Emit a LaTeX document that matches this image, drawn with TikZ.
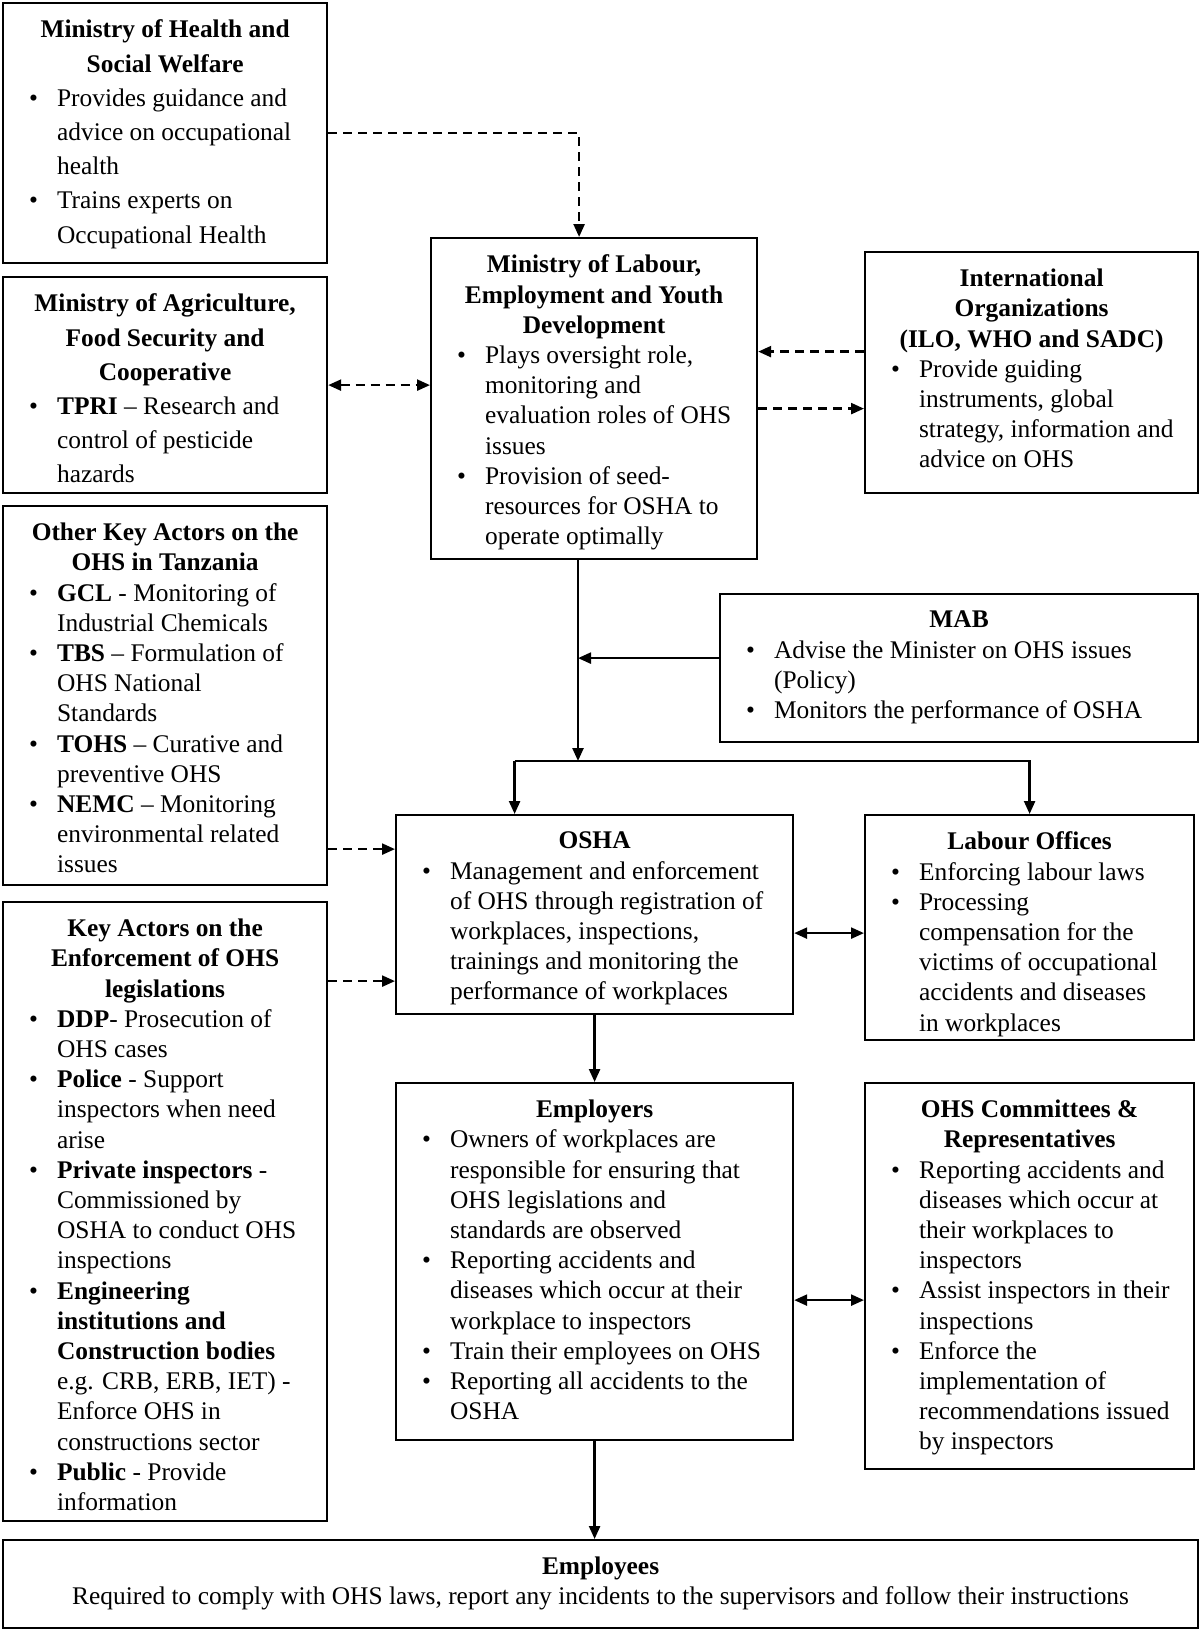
\documentclass[tikz,border=0pt]{standalone}
\usepackage{fontspec}
\setmainfont{Liberation Serif}
\usetikzlibrary{arrows.meta}

% bullet list used inside the boxes
\newenvironment{bul}{\begin{list}{\textbullet}{%
    \setlength{\leftmargin}{23pt}\setlength{\labelsep}{9.5pt}%
    \setlength{\labelwidth}{10pt}\setlength{\itemsep}{0pt}%
    \setlength{\parsep}{0pt}\setlength{\topsep}{0pt}%
    \setlength{\partopsep}{0pt}}\raggedright}{\end{list}}
% box body: width and height in px
\newcommand{\panelbody}[3]{\begin{minipage}[t][\dimexpr #2pt/2-17pt\relax][t]{\dimexpr #1pt/2-8pt\relax}\raggedright #3\end{minipage}}
\newcommand{\heading}[1]{{\centering\bfseries #1\par}}

\tikzset{
  box/.style={draw, line width=1.1pt, anchor=north west, inner xsep=4pt, inner ysep=8.5pt,
    font=\fontsize{12.7}{15.1}\selectfont},
  loose/.style={font=\fontsize{12.7}{17.1}\selectfont},
  conn/.style={line width=1.2pt},
  dashconn/.style={conn, dash pattern=on 4.5pt off 3pt},
}

\begin{document}
\begin{tikzpicture}[x=0.5pt, y=-0.5pt, >={Triangle[length=6.5pt, width=5.5pt]}]
\useasboundingbox (0,0) rectangle (1200,1629);

% left column
\node[box, loose] (health) at (2,2) {\panelbody{324}{260}{%
  \heading{Ministry of Health and\\Social Welfare}
  \begin{bul}
  \item Provides guidance and\\advice on occupational\\health
  \item Trains experts on\\Occupational Health
  \end{bul}}};
\node[box, loose] (agri) at (2,276) {\panelbody{324}{216}{%
  \heading{Ministry of Agriculture,\\Food Security and\\Cooperative}
  \begin{bul}
  \item \textbf{TPRI} -- Research and\\control of pesticide\\hazards
  \end{bul}}};
\node[box] (others) at (2,505) {\panelbody{324}{379}{%
  \heading{Other Key Actors on the\\OHS in Tanzania}
  \begin{bul}
  \item \textbf{GCL} - Monitoring of\\Industrial Chemicals
  \item \textbf{TBS} -- Formulation of\\OHS National\\Standards
  \item \textbf{TOHS} -- Curative and\\preventive OHS
  \item \textbf{NEMC} -- Monitoring\\environmental related\\issues
  \end{bul}}};
\node[box] (enforce) at (2,901) {\panelbody{324}{619}{%
  \heading{Key Actors on the\\Enforcement of OHS\\legislations}
  \begin{bul}
  \item \textbf{DDP}- Prosecution of\\OHS cases
  \item \textbf{Police} - Support\\inspectors when need\\arise
  \item \textbf{Private inspectors} -\\Commissioned by\\OSHA to conduct OHS\\inspections
  \item \textbf{Engineering\\institutions and\\Construction bodies}\\e.g. CRB, ERB, IET) -\\Enforce OHS in\\constructions sector
  \item \textbf{Public} - Provide\\information
  \end{bul}}};

% middle and right
\node[box] (labour) at (430,237) {\panelbody{326}{321}{%
  \heading{Ministry of Labour,\\Employment and Youth\\Development}
  \begin{bul}
  \item Plays oversight role,\\monitoring and\\evaluation roles of OHS\\issues
  \item Provision of seed-\\resources for OSHA to\\operate optimally
  \end{bul}}};
\node[box] (intl) at (864,251) {\panelbody{333}{241}{%
  \heading{International\\Organizations\\(ILO, WHO and SADC)}
  \begin{bul}
  \item Provide guiding\\instruments, global\\strategy, information and\\advice on OHS
  \end{bul}}};
\node[box] (mab) at (719,593) {\panelbody{478}{148}{%
  \heading{MAB}
  \begin{bul}
  \item Advise the Minister on OHS issues\\(Policy)
  \item Monitors the performance of OSHA
  \end{bul}}};
\node[box] (osha) at (395,814) {\panelbody{397}{199}{%
  \heading{OSHA}
  \begin{bul}
  \item Management and enforcement\\of OHS through registration of\\workplaces, inspections,\\trainings and monitoring the\\performance of workplaces
  \end{bul}}};
\node[box] (offices) at (864,814) {\panelbody{329}{225}{%
  \heading{Labour Offices}
  \begin{bul}
  \item Enforcing labour laws
  \item Processing\\compensation for the\\victims of occupational\\accidents and diseases\\in workplaces
  \end{bul}}};
\node[box] (employers) at (395,1082) {\panelbody{397}{357}{%
  \heading{Employers}
  \begin{bul}
  \item Owners of workplaces are\\responsible for ensuring that\\OHS legislations and\\standards are observed
  \item Reporting accidents and\\diseases which occur at their\\workplace to inspectors
  \item Train their employees on OHS
  \item Reporting all accidents to the\\OSHA
  \end{bul}}};
\node[box] (committees) at (864,1082) {\panelbody{329}{386}{%
  \heading{OHS Committees \&\\Representatives}
  \begin{bul}
  \item Reporting accidents and\\diseases which occur at\\their workplaces to\\inspectors
  \item Assist inspectors in their\\inspections
  \item Enforce the\\implementation of\\recommendations issued\\by inspectors
  \end{bul}}};
\node[box] (employees) at (2,1539) {\panelbody{1195}{88}{%
  \centering\textbf{Employees}\\
  Required to comply with OHS laws, report any incidents to the supervisors and follow their instructions\par}};

% connector points
\coordinate (labin) at ([xshift=-7.5pt]labour.north);
\coordinate (intlin) at ([yshift=10.5pt]intl.west);
\coordinate (intlout) at ([yshift=-18pt]intl.west);
\coordinate (split) at (578,761);
\coordinate (mabout) at ([yshift=5pt]mab.west);
\coordinate (oshain) at ([xshift=-40pt]osha.north);
\coordinate (oshaa) at ([yshift=32.75pt]osha.west);
\coordinate (oshab) at ([yshift=-33.25pt]osha.west);
\coordinate (offin) at ([yshift=-2.75pt]offices.west);
\coordinate (comin) at ([yshift=-12pt]committees.west);

% dashed links
\draw[dashconn, ->] (health.east) -| (labin);
\draw[dashconn, <->] (agri.east) -- (agri.east -| labour.west);
\draw[dashconn, ->] (intlin) -- (intlin -| labour.east);
\draw[dashconn, ->] (intlout -| labour.east) -- (intlout);
\draw[dashconn, ->] (oshaa -| others.east) -- (oshaa);
\draw[dashconn, ->] (oshab -| enforce.east) -- (oshab);

% solid links
\draw[conn, ->] (labour.south -| split) -- (split);
\draw[conn, ->] (mabout) -- (mabout -| split);
\draw[conn, ->] (oshain |- split) -| (offices.north);
\draw[conn, ->] (oshain |- split) -- (oshain);
\draw[conn, <->] (offin -| osha.east) -- (offin);
\draw[conn, ->] (osha.south) -- (employers.north);
\draw[conn, <->] (comin -| employers.east) -- (comin);
\draw[conn, ->] (employers.south) -- (employers.south |- employees.north);
\end{tikzpicture}
\end{document}
